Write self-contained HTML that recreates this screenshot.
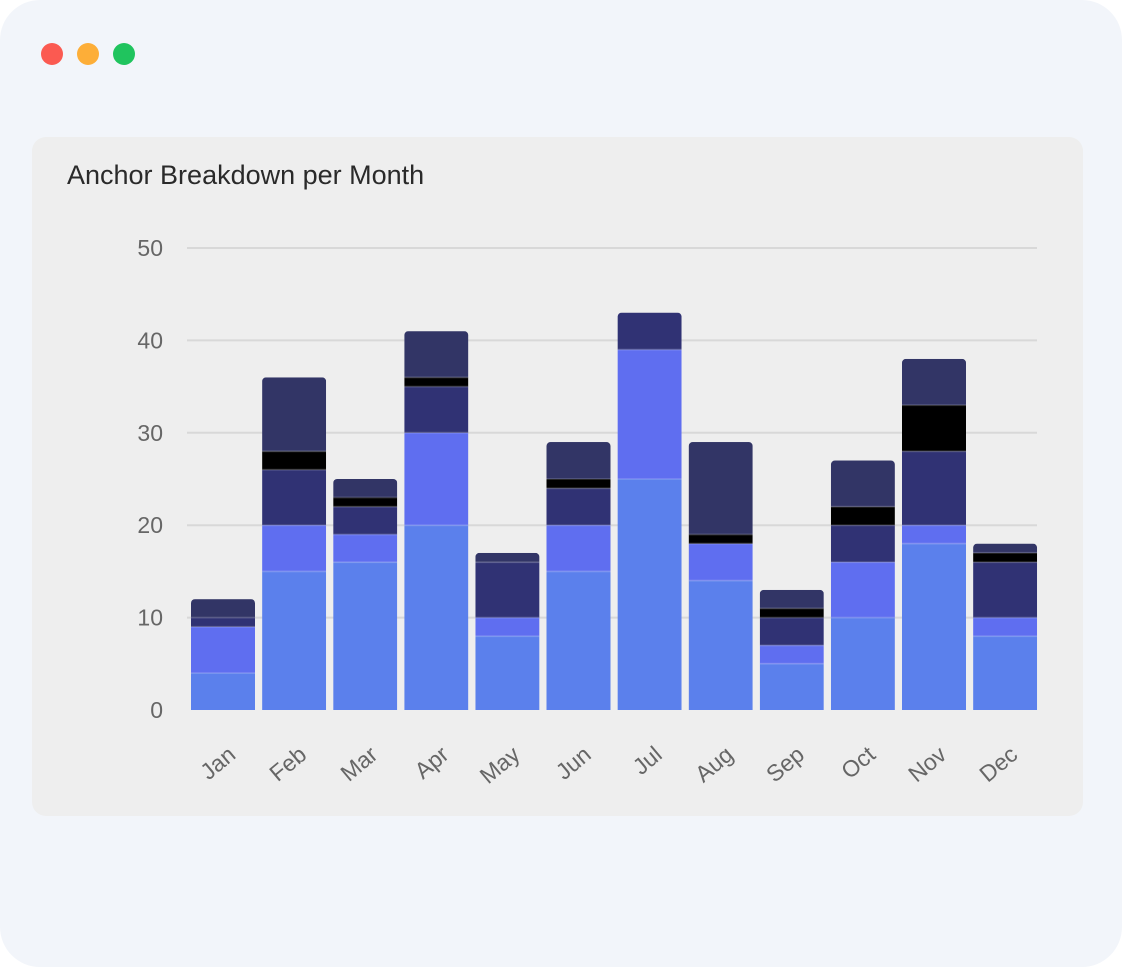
<!DOCTYPE html>
<html><head><style>
body{margin:0;background:#fff;}
.win{position:absolute;left:0;top:0;width:1122px;height:967px;background:#f2f5fa;border-radius:40px;}
.card{position:absolute;left:32px;top:137px;width:1051px;height:679px;background:#eeeeee;border-radius:14px;}
.title{position:absolute;left:67px;top:160px;font:27px "Liberation Sans",sans-serif;color:#2a2a2a;}
</style></head><body>
<div class="win"></div>
<svg width="1122" height="967" style="position:absolute;left:0;top:0">
<circle cx="52" cy="54" r="11" fill="#fb5a51"/>
<circle cx="88" cy="54" r="11" fill="#fdae38"/>
<circle cx="124" cy="54" r="11" fill="#20c45e"/>
</svg>
<div class="card"></div>
<div class="title">Anchor Breakdown per Month</div>
<svg id="c" width="1122" height="967" style="position:absolute;left:0;top:0" font-family="Liberation Sans, sans-serif"></svg>
<script>
const s=document.getElementById('c');let h='';
const y0=710,k=9.24;
for(let v=0;v<=50;v+=10){const y=y0-v*k;
 if(v>0)h+=`<line x1="187" x2="1037" y1="${y}" y2="${y}" stroke="#d8d8d8" stroke-width="2"/>`;
 h+=`<text x="163" y="${y+8}" font-size="23" fill="#666" text-anchor="end">${v}</text>`;}
const d=[[4,5,1,0,2],[15,5,6,2,8],[16,3,3,1,2],[20,10,5,1,5],[8,2,6,0,1],[15,5,4,1,4],[25,14,4,0,0],[14,4,0,1,10],[5,2,3,1,2],[10,6,4,2,5],[18,2,8,5,5],[8,2,6,1,1]];
const col=['#5b80ec','#5f6ef0','#303274','#000','#323566'];
const m=['Jan','Feb','Mar','Apr','May','Jun','Jul','Aug','Sep','Oct','Nov','Dec'];
d.forEach((r,i)=>{const x=191+i*71.1,w=64;let c=0;
 const tot=r.reduce((a,b)=>a+b,0);
 h+=`<clipPath id="p${i}"><rect x="${x}" y="${y0-tot*k}" width="${w}" height="${tot*k+10}" rx="4"/></clipPath><g clip-path="url(#p${i})">`;
 r.forEach((v,j)=>{if(!v)return;const yt=y0-(c+v)*k;h+=`<rect x="${x}" y="${yt}" width="${w}" height="${v*k}" fill="${col[j]}"/>`;
  if(c>0)h+=`<line x1="${x}" x2="${x+w}" y1="${y0-c*k}" y2="${y0-c*k}" stroke="rgba(255,255,255,0.15)" stroke-width="2"/>`;c+=v;});
 h+=`</g>`;
 const cx=x+w/2;
 h+=`<text x="${cx+14}" y="757" font-size="23" fill="#666" text-anchor="end" transform="rotate(-40 ${cx+14} 757)">${m[i]}</text>`;
});
s.innerHTML=h;
</script>
</body></html>
